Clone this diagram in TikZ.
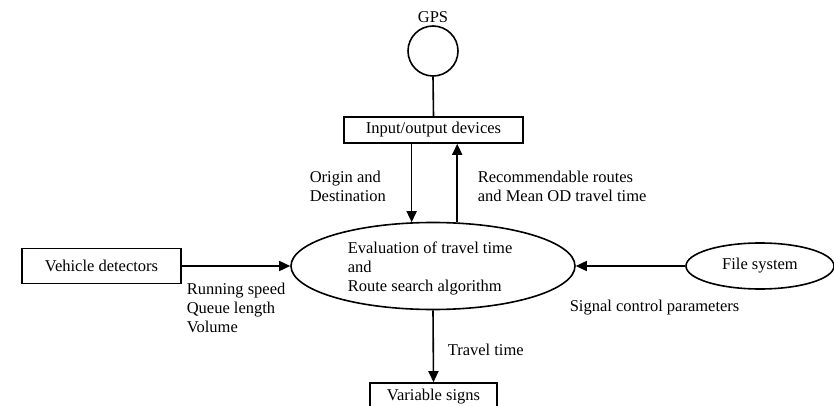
\documentclass[tikz,border=0pt]{standalone}
\usepackage{fontspec}
\setmainfont{Liberation Serif}
\usetikzlibrary{shapes.geometric,arrows.meta}
\begin{document}
\begin{tikzpicture}[x=1pt,y=-1pt,
  font=\fontsize{16.5}{19}\selectfont,
  line width=1.6pt,
  boxnode/.style={draw,rectangle,inner sep=0pt},
  ellnode/.style={draw,ellipse,inner sep=0pt},
  lbl/.style={anchor=west,align=left,inner sep=0pt},
  arr/.style={-{Triangle[length=11pt,width=10pt]}}]
\clip (0,0) rectangle (834,406);
% nodes
\node[inner sep=0pt] (gpslbl) at (433,17) {GPS};
\node[draw,circle,minimum size=50pt,inner sep=0pt] (gps) at (433,51) {};
\node[boxnode,minimum width=179pt,minimum height=26pt] (io) at (433.5,130) {Input/output devices};
\node[ellnode,minimum width=284pt,minimum height=87pt] (main) at (433,266) {};
\node[lbl] (maintxt) at (347,268) {Evaluation of travel time\\and\\Route search algorithm};
\node[boxnode,minimum width=159pt,minimum height=35pt] (veh) at (101.5,266) {Vehicle detectors};
\node[ellnode,minimum width=148pt,minimum height=46pt] (file) at (760,266) {File system};
\node[boxnode,minimum width=127pt,minimum height=40pt] (vs) at (433.5,403) {};
\node[inner sep=0pt] (vstxt) at (433.5,397) {Variable signs};
% labels
\node[lbl] (od) at (309,186) {Origin and\\Destination};
\node[lbl] (rec) at (477,186) {Recommendable routes\\and Mean OD travel time};
\node[lbl] (run) at (186,308) {Running speed\\Queue length\\Volume};
\node[lbl] (sig) at (569,308) {Signal control parameters};
\node[lbl] (tt) at (447,350) {Travel time};
% connectors
\coordinate (a1) at (main.116);
\coordinate (a2) at (main.61);
\draw (gps.south) -- (io.north);
\draw[arr] (io.south -| a1) -- (a1);
\draw[arr] (a2) -- (io.south -| a2);
\draw[arr] (veh.east) -- (main.west);
\draw[arr] (file.west) -- (main.east);
\draw[arr] (main.south) -- (vs.north);
\end{tikzpicture}
\end{document}
